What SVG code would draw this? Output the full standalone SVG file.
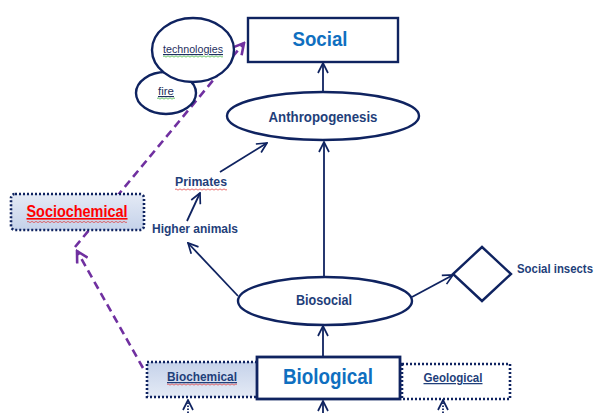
<svg xmlns="http://www.w3.org/2000/svg" width="599" height="413" viewBox="0 0 599 413">
<style>
.t{font-family:"Liberation Sans",Arial,sans-serif;font-weight:bold;fill:#1f3f7a;}
.big{font-family:"Liberation Sans",Arial,sans-serif;font-weight:bold;fill:#0f6fc0;}
.sm{font-family:"Liberation Sans",Arial,sans-serif;fill:#1f3060;}
.ln{stroke:#0f2360;stroke-width:1.8;fill:none;}
.pl{stroke:#7030a0;stroke-width:2.6;fill:none;stroke-dasharray:8 5;}
.sh{stroke:#0f2360;stroke-width:2.4;fill:#fff;}
.dot{stroke:#0f2360;stroke-width:2.6;stroke-dasharray:2 2;}
.wr{stroke:#e03030;stroke-width:0.7;fill:none;}
.wg{stroke:#30b030;stroke-width:0.7;fill:none;}
</style>
<defs>
<marker id="ah" viewBox="0 0 12 12" refX="11" refY="6" markerWidth="12" markerHeight="12" markerUnits="userSpaceOnUse" orient="auto">
<path d="M1,1 L11,6 L1,11" fill="none" stroke="#0f2360" stroke-width="1.7"/>
</marker>
<marker id="ap" viewBox="0 0 14 14" refX="12" refY="7" markerWidth="14" markerHeight="14" markerUnits="userSpaceOnUse" orient="auto">
<path d="M1,1 L12,7 L1,13" fill="none" stroke="#7030a0" stroke-width="2.6"/>
</marker>
<linearGradient id="g1" x1="0" y1="0" x2="0" y2="1">
<stop offset="0" stop-color="#e4eaf5"/>
<stop offset="1" stop-color="#c5d2ea"/>
</linearGradient>
<linearGradient id="g2" x1="0" y1="0" x2="0" y2="1">
<stop offset="0" stop-color="#c5d2ea"/>
<stop offset="1" stop-color="#e4eaf5"/>
</linearGradient>
</defs>

<g id="connectors">
<line class="pl" x1="75" y1="247" x2="244" y2="43" marker-end="url(#ap)"/>
<line class="pl" x1="143" y1="368" x2="77" y2="251" marker-end="url(#ap)"/>
<line class="ln" x1="323" y1="92" x2="323" y2="63" marker-end="url(#ah)"/>
<line class="ln" x1="324" y1="277" x2="324" y2="142" marker-end="url(#ah)"/>
<line class="ln" x1="323" y1="357" x2="323" y2="326" marker-end="url(#ah)"/>
<line class="ln" x1="412" y1="297" x2="453" y2="275" marker-end="url(#ah)"/>
<line class="ln" x1="238" y1="296" x2="188" y2="243" marker-end="url(#ah)"/>
<line class="ln" x1="187" y1="221" x2="200" y2="193" marker-end="url(#ah)"/>
<line class="ln" x1="220" y1="172" x2="267" y2="143" marker-end="url(#ah)"/>
<line class="ln" x1="323" y1="413" x2="323" y2="401" marker-end="url(#ah)"/>
<line class="ln" x1="188" y1="413" x2="188" y2="400" stroke-width="1" stroke-dasharray="1.5 1.5" marker-end="url(#ah)"/>
<line class="ln" x1="443" y1="413" x2="443" y2="400" stroke-width="1" stroke-dasharray="1.5 1.5" marker-end="url(#ah)"/>
</g>

<g id="social">
<rect class="sh" x="248" y="18" width="150" height="44"/>
<text class="big" x="320" y="46" font-size="21" text-anchor="middle" textLength="55" lengthAdjust="spacingAndGlyphs">Social</text>
</g>

<g id="fire">
<ellipse class="sh" cx="166" cy="93" rx="30" ry="21"/>
<text class="sm" x="166" y="95" font-size="11.5" text-anchor="middle" text-decoration="underline">fire</text>
<path class="wg" d="M157,98.5 q1,-1.2 2,0 t2,0 t2,0 t2,0 t2,0 t2,0 t2,0 t2,0 t2,0"/>
</g>

<g id="technologies">
<ellipse class="sh" cx="193" cy="50" rx="41" ry="32"/>
<text class="sm" x="193" y="53" font-size="11.5" text-anchor="middle" textLength="60" lengthAdjust="spacingAndGlyphs" text-decoration="underline">technologies</text>
<path class="wg" d="M163,56.5 q1,-1.2 2,0 t2,0 t2,0 t2,0 t2,0 t2,0 t2,0 t2,0 t2,0 t2,0 t2,0 t2,0 t2,0 t2,0 t2,0 t2,0 t2,0 t2,0 t2,0 t2,0 t2,0 t2,0 t2,0 t2,0 t2,0 t2,0 t2,0 t2,0 t2,0 t2,0"/>
</g>

<g id="anthropogenesis">
<ellipse class="sh" cx="323" cy="116" rx="96" ry="24"/>
<text class="t" x="323" y="122" font-size="15" text-anchor="middle" textLength="109" lengthAdjust="spacingAndGlyphs">Anthropogenesis</text>
</g>

<g id="primates">
<text class="t" x="201" y="186" font-size="12.5" text-anchor="middle" textLength="52" lengthAdjust="spacingAndGlyphs">Primates</text>
<path class="wr" d="M175,189.5 q1,-1.2 2,0 t2,0 t2,0 t2,0 t2,0 t2,0 t2,0 t2,0 t2,0 t2,0 t2,0 t2,0 t2,0 t2,0 t2,0 t2,0 t2,0 t2,0 t2,0 t2,0 t2,0 t2,0 t2,0 t2,0 t2,0 t2,0"/>
</g>

<g id="higher-animals">
<text class="t" x="195" y="233" font-size="12.5" text-anchor="middle" textLength="86" lengthAdjust="spacingAndGlyphs">Higher animals</text>
</g>

<g id="sociochemical">
<rect x="11" y="194" width="133" height="36" rx="4" fill="url(#g1)" class="dot"/>
<text x="77" y="217" font-size="16" text-anchor="middle" textLength="101" lengthAdjust="spacingAndGlyphs" font-family="Liberation Sans, Arial, sans-serif" font-weight="bold" fill="#ff0000" text-decoration="underline">Sociochemical</text>
<path class="wr" d="M27,222 q1,-1.2 2,0 t2,0 t2,0 t2,0 t2,0 t2,0 t2,0 t2,0 t2,0 t2,0 t2,0 t2,0 t2,0 t2,0 t2,0 t2,0 t2,0 t2,0 t2,0 t2,0 t2,0 t2,0 t2,0 t2,0 t2,0 t2,0 t2,0 t2,0 t2,0 t2,0 t2,0 t2,0 t2,0 t2,0 t2,0 t2,0 t2,0 t2,0 t2,0 t2,0 t2,0 t2,0 t2,0 t2,0 t2,0 t2,0 t2,0 t2,0 t2,0 t2,0"/>
</g>

<g id="biosocial">
<ellipse class="sh" cx="325" cy="301" rx="87" ry="24"/>
<text class="t" x="324" y="305" font-size="14" text-anchor="middle" textLength="56" lengthAdjust="spacingAndGlyphs">Biosocial</text>
</g>

<g id="social-insects">
<polygon class="sh" points="482,247 511,274 482,301 453,274"/>
<text class="t" x="517" y="273" font-size="12.5" textLength="76" lengthAdjust="spacingAndGlyphs">Social insects</text>
</g>

<g id="biochemical">
<rect x="147" y="362" width="111" height="35" fill="url(#g2)" class="dot"/>
<text class="t" x="202" y="381" font-size="12.5" text-anchor="middle" textLength="70" lengthAdjust="spacingAndGlyphs" text-decoration="underline">Biochemical</text>
<path class="wr" d="M167,384.5 q1,-1.2 2,0 t2,0 t2,0 t2,0 t2,0 t2,0 t2,0 t2,0 t2,0 t2,0 t2,0 t2,0 t2,0 t2,0 t2,0 t2,0 t2,0 t2,0 t2,0 t2,0 t2,0 t2,0 t2,0 t2,0 t2,0 t2,0 t2,0 t2,0 t2,0 t2,0 t2,0 t2,0 t2,0 t2,0 t2,0"/>
</g>

<g id="geological">
<rect x="402" y="364" width="108" height="35" fill="#fff" class="dot"/>
<text class="t" x="453" y="382" font-size="12.5" text-anchor="middle" textLength="59" lengthAdjust="spacingAndGlyphs" text-decoration="underline">Geological</text>
</g>

<g id="biological">
<rect x="257" y="357" width="143" height="42" fill="#fff" stroke="#0f2360" stroke-width="2.8"/>
<text class="big" x="328" y="384" font-size="22" text-anchor="middle" textLength="90" lengthAdjust="spacingAndGlyphs">Biological</text>
</g>
</svg>
